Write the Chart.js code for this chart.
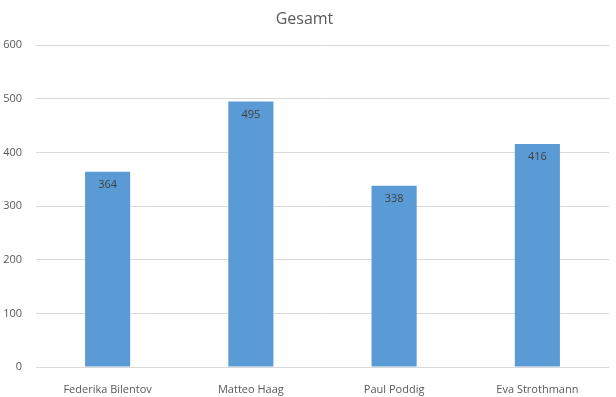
<!DOCTYPE html>
<html>
<head>
<meta charset="utf-8">
<script src="https://cdn.jsdelivr.net/npm/chart.js@4"></script>
<style>
  html, body { margin: 0; padding: 0; background: #fff; }
  #wrap { width: 616px; height: 397px; }
</style>
</head>
<body>
<div id="wrap"><canvas id="Chart" width="616" height="397"></canvas></div>
<script>
const names = ["Federika Bilentov", "Matteo Haag", "Paul Poddig", "Eva Strothmann"];
const totals = [364, 495, 338, 416];
const yTicks = [0, 100, 200, 300, 400, 500, 600];

const FONT = "'Open Sans', 'Liberation Sans', sans-serif";

// draws the value just inside the top of each bar
const barValues = {
  id: "barValues",
  afterDatasetsDraw(chart) {
    const ctx = chart.ctx;
    const meta = chart.getDatasetMeta(0);
    ctx.save();
    ctx.font = "11px " + FONT;
    ctx.fillStyle = "#404040";
    ctx.textAlign = "center";
    ctx.textBaseline = "middle";
    meta.data.forEach((bar, i) => {
      ctx.fillText(String(totals[i]), bar.x, bar.y + 13);
    });
    ctx.restore();
  }
};

new Chart(document.getElementById("Chart").getContext("2d"), {
  type: "bar",
  data: {
    labels: names,
    datasets: [{
      label: "Gesamt",
      data: totals,
      backgroundColor: "#5B9BD5",
      borderWidth: 0,
      categoryPercentage: 1,
      barPercentage: 0.315
    }]
  },
  options: {
    responsive: false,
    animation: false,
    layout: { padding: { left: 0, right: 7, top: 0, bottom: 0 } },
    plugins: {
      legend: { display: false },
      tooltip: { enabled: false },
      title: {
        display: true,
        text: "Gesamt",
        color: "#595959",
        font: { family: FONT, size: 16, weight: "normal" },
        padding: { top: 10, bottom: 16 }
      }
    },
    scales: {
      x: {
        grid: { display: false },
        border: { display: false },
        ticks: { color: "#595959", font: { family: FONT, size: 11 }, padding: 8 },
        afterFit(scale) { scale.height = 30; }
      },
      y: {
        min: 0,
        max: 600,
        afterBuildTicks(scale) { scale.ticks = yTicks.map(v => ({ value: v })); },
        grid: { color: "#d9d9d9", drawTicks: false },
        border: { display: false },
        ticks: { color: "#595959", font: { family: FONT, size: 11 }, padding: 14 },
        afterFit(scale) { scale.width = 36; }
      }
    }
  },
  plugins: [barValues]
});
</script>
</body>
</html>
